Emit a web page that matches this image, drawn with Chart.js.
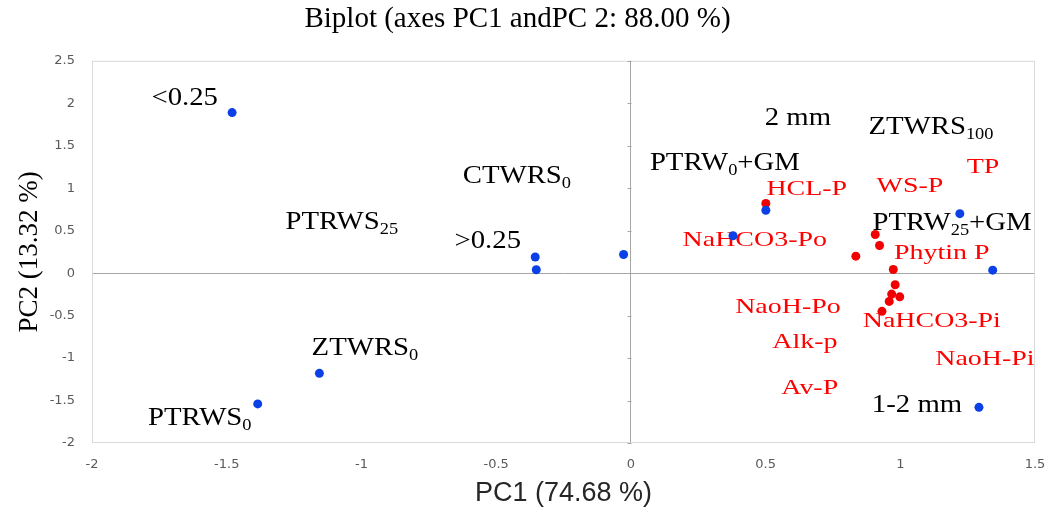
<!DOCTYPE html>
<html>
<head>
<meta charset="utf-8">
<script src="https://cdn.jsdelivr.net/npm/chart.js"></script>
<style>
  html, body { margin: 0; padding: 0; background: #fff; }
</style>
</head>
<body>
<canvas id="biplot" width="1061" height="512"></canvas>
<script>
// observations (blue points)
const obsX = [-1.48, -0.355, -0.351, -0.027, -1.156, -1.385, 0.379, 0.501, 1.221, 1.343, 1.292];
const obsY = [1.89, 0.19, 0.04, 0.22, -1.18, -1.54, 0.44, 0.74, 0.70, 0.035, -1.58];

// variables (red points)
const varX = [0.501, 0.907, 0.923, 0.835, 0.974, 0.981, 0.968, 0.998, 0.959, 0.932];
const varY = [0.82, 0.455, 0.326, 0.20, 0.043, -0.137, -0.247, -0.279, -0.333, -0.45];

// labels as placed on the plot ("_" marks a subscript), anchor = centre x / baseline y
const obsLabels = ['<0.25', 'CTWRS_0', 'PTRWS_25', '>0.25', 'ZTWRS_0', 'PTRWS_0',
                   '2 mm', 'ZTWRS_100', 'PTRW_0+GM', 'PTRW_25+GM', '1-2 mm'];
const obsLabelX = [-1.656, -0.423, -1.073, -0.531, -0.987, -1.600, 0.620, 1.114, 0.349, 1.192, 1.062];
const obsLabelY = [1.976, 1.059, 0.518, 0.294, -0.965, -1.788, 1.741, 1.635, 1.212, 0.506, -1.635];

const varLabels = ['TP', 'WS-P', 'HCL-P', 'NaHCO3-Po', 'Phytin P', 'NaoH-Po',
                   'NaHCO3-Pi', 'Alk-p', 'NaoH-Pi', 'Av-P'];
const varLabelX = [1.307, 1.036, 0.653, 0.460, 1.154, 0.583, 1.117, 0.646, 1.314, 0.664];
const varLabelY = [1.182, 0.953, 0.918, 0.318, 0.165, -0.471, -0.632, -0.882, -1.082, -1.424];

const xTicks = [-2, -1.5, -1, -0.5, 0, 0.5, 1, 1.5];
const yTicks = [-2, -1.5, -1, -0.5, 0, 0.5, 1, 1.5, 2, 2.5];

const SERIF = '"Liberation Serif", "Times New Roman", serif';
const TICK_FONT = { family: '"DejaVu Sans", Verdana, sans-serif', size: 13 };

function toPoints(xs, ys) {
  return xs.map((x, i) => ({ x: x, y: ys[i] }));
}

function drawLabel(ctx, text, px, py, st) {
  const m = text.match(/^(.*?)_(\d+)(.*)$/);
  const parts = m ? [[m[1], false], [m[2], true], [m[3], false]] : [[text, false]];
  const mainFont = st.size + 'px ' + SERIF;
  const subFont = Math.round(st.size * 0.64) + 'px ' + SERIF;
  let w = 0;
  parts.forEach(([t, sub]) => { ctx.font = sub ? subFont : mainFont; w += ctx.measureText(t).width; });
  ctx.save();
  ctx.translate(px, py);
  ctx.scale(st.stretch, 1);
  ctx.fillStyle = st.color;
  ctx.textAlign = 'left';
  ctx.textBaseline = 'alphabetic';
  let cx = -w / 2;
  parts.forEach(([t, sub]) => {
    ctx.font = sub ? subFont : mainFont;
    ctx.fillText(t, cx, sub ? st.size * 0.2 : 0);
    cx += ctx.measureText(t).width;
  });
  ctx.restore();
}

const biplotDecor = {
  id: 'biplotDecor',
  beforeDatasetsDraw(chart) {
    const { ctx, chartArea: a, scales: { x, y } } = chart;
    ctx.save();
    // plot frame
    ctx.strokeStyle = '#d9d9d9';
    ctx.lineWidth = 1;
    ctx.strokeRect(a.left + 0.5, a.top + 0.5, a.right - a.left - 1, a.bottom - a.top - 1);
    // little tick marks on the vertical zero line
    const x0 = Math.round(x.getPixelForValue(0)) + 0.5;
    ctx.strokeStyle = '#a6a6a6';
    ctx.beginPath();
    yTicks.forEach(v => {
      const py = Math.round(y.getPixelForValue(v)) + 0.5;
      ctx.moveTo(x0 - 4, py);
      ctx.lineTo(x0, py);
    });
    ctx.stroke();
    ctx.restore();

    const black = { size: 25, stretch: 1.15, color: '#000000' };
    const red = { size: 22, stretch: 1.27, color: '#ff0000' };
    obsLabels.forEach((t, i) =>
      drawLabel(ctx, t, x.getPixelForValue(obsLabelX[i]), y.getPixelForValue(obsLabelY[i]), black));
    varLabels.forEach((t, i) =>
      drawLabel(ctx, t, x.getPixelForValue(varLabelX[i]), y.getPixelForValue(varLabelY[i]), red));
  }
};

const zeroLine = c => (c.tick && c.tick.value === 0) ? '#a6a6a6' : 'rgba(0,0,0,0)';

new Chart(document.getElementById('biplot'), {
  type: 'scatter',
  data: {
    datasets: [
      {
        label: 'Observations',
        data: toPoints(obsX, obsY),
        backgroundColor: '#0b40e6',
        pointRadius: 4.5,
        pointHoverRadius: 4.5,
        borderWidth: 0
      },
      {
        label: 'Variables',
        data: toPoints(varX, varY),
        backgroundColor: '#f00000',
        pointRadius: 4.5,
        pointHoverRadius: 4.5,
        borderWidth: 0
      }
    ]
  },
  options: {
    responsive: false,
    animation: false,
    layout: { padding: { right: 26 } },
    plugins: {
      legend: { display: false },
      tooltip: { enabled: false },
      title: {
        display: true,
        text: 'Biplot (axes PC1 andPC 2: 88.00 %)',
        color: '#000000',
        font: { family: SERIF, size: 29, weight: 'normal' },
        padding: { top: 2, bottom: 24 }
      }
    },
    scales: {
      x: {
        type: 'linear',
        min: -2,
        max: 1.5,
        afterBuildTicks: s => { s.ticks = xTicks.map(v => ({ value: v })); },
        afterFit: s => { s.height = 69; },
        ticks: {
          callback: v => String(v),
          color: '#595959',
          font: TICK_FONT,
          padding: 14,
          maxRotation: 0,
          autoSkip: false
        },
        grid: { color: zeroLine, drawTicks: false, lineWidth: 1 },
        border: { display: false },
        title: {
          display: true,
          text: 'PC1 (74.68 %)',
          color: '#262626',
          font: { family: '"Liberation Sans", Arial, sans-serif', size: 27 },
          padding: { top: 0, bottom: 2 }
        }
      },
      y: {
        type: 'linear',
        min: -2,
        max: 2.5,
        afterBuildTicks: s => { s.ticks = yTicks.map(v => ({ value: v })); },
        afterFit: s => { s.width = 92; },
        ticks: {
          callback: v => String(v),
          color: '#595959',
          font: TICK_FONT,
          padding: 17,
          autoSkip: false
        },
        grid: { color: zeroLine, drawTicks: false, lineWidth: 1 },
        border: { display: false },
        title: {
          display: true,
          text: 'PC2 (13.32 %)',
          color: '#000000',
          font: { family: SERIF, size: 27 },
          padding: { top: 14, bottom: 0 }
        }
      }
    }
  },
  plugins: [biplotDecor]
});
</script>
</body>
</html>
